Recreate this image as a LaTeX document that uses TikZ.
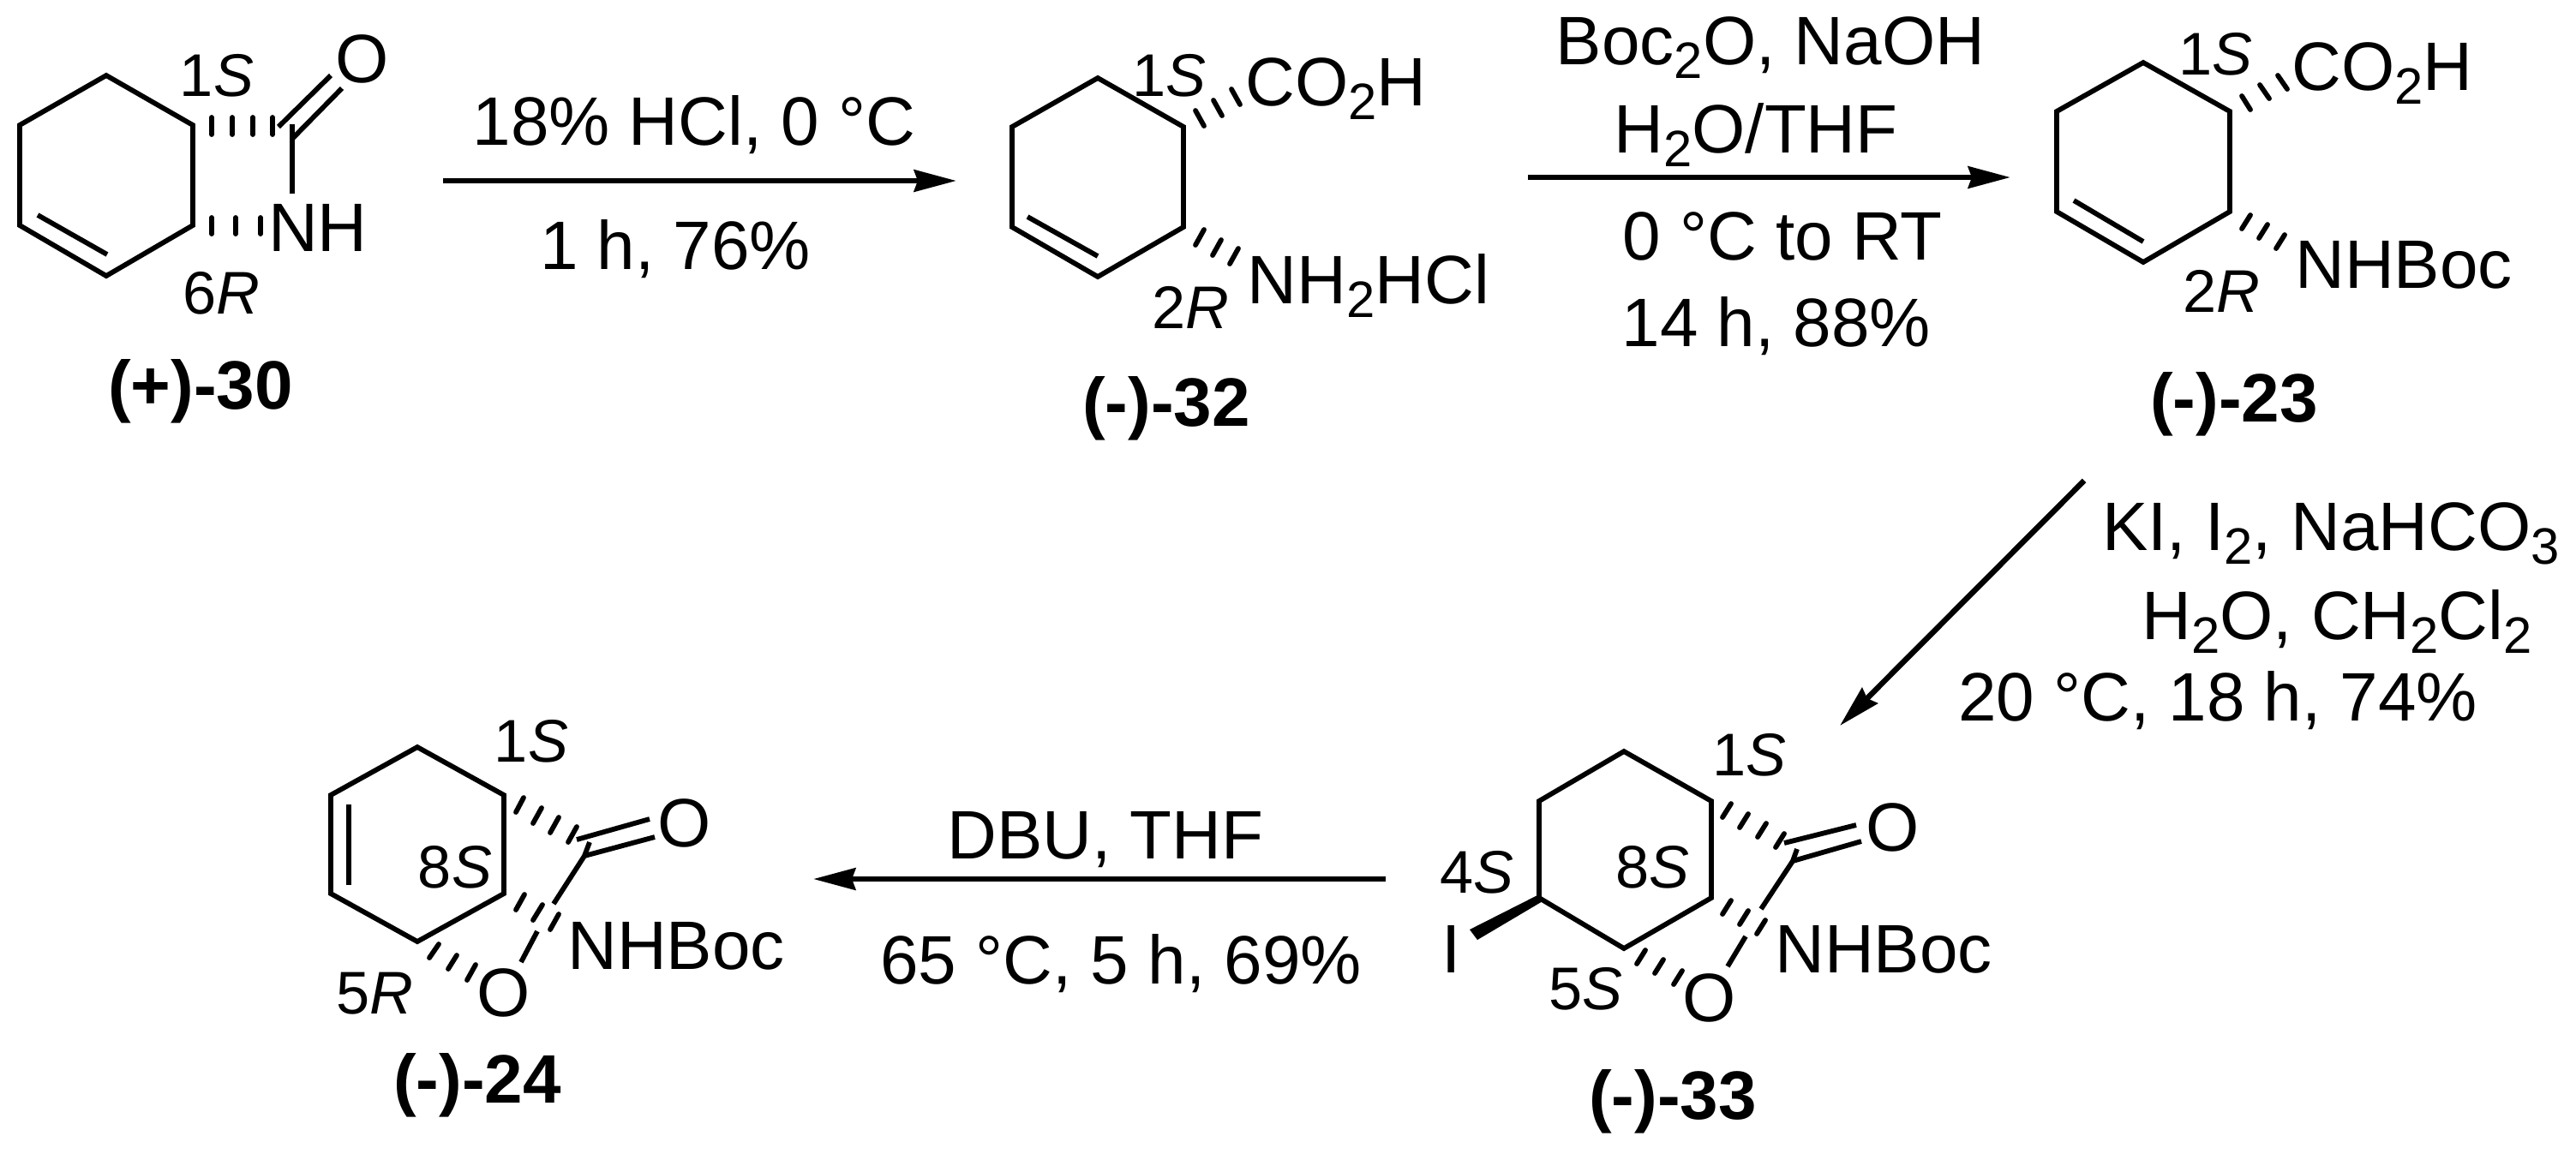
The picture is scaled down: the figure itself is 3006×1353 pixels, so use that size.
\documentclass[tikz,border=0pt]{standalone}
\usepackage{fontspec}
\usepackage{tikz}
\setmainfont{Liberation Sans}
\usetikzlibrary{arrows.meta, positioning}

\newcommand{\subn}[1]{\raisebox{-4.8pt}{\fontsize{17}{17}\selectfont #1}}

\begin{document}
\begin{tikzpicture}[x=0.01cm, y=-0.01cm,
    atom/.style={font=\fontsize{22.76}{26}\selectfont, inner sep=0pt, anchor=base},
    reagent/.style={atom},
    stereo/.style={font=\fontsize{20}{24}\selectfont, inner sep=0pt, anchor=base},
    compound/.style={font=\fontsize{22.76}{26}\selectfont\bfseries, inner sep=0pt, anchor=base},
    bond/.style={draw, line width=1.65pt, line join=miter},
    hash/.style={draw, line width=1.65pt, line cap=round},
    rxn/.style={-{Stealth[length=14pt, width=7.2pt, inset=1.2pt]}, line width=1.85pt}]
  \useasboundingbox (0,0) rectangle (3006,1353);

  % (+)-30
  \coordinate (r30a) at (124,88);
  \coordinate (r30b) at (225,146);
  \coordinate (r30c) at (225,263);
  \coordinate (r30d) at (124,322);
  \coordinate (r30e) at (23,263);
  \coordinate (r30f) at (23,146);
  \coordinate (i30a) at (44,251);
  \coordinate (i30b) at (125,297);
  \coordinate (c30)  at (341,162);
  \coordinate (s30)  at (341,145);
  \coordinate (n30)  at (341,226);
  \coordinate (o30a) at (399,103);
  \coordinate (o30b) at (325,148);
  \coordinate (o30c) at (386,88);
  \draw[bond] (r30a) -- (r30b) -- (r30c) -- (r30d) -- (r30e) -- (r30f) -- cycle;
  \draw[bond] (i30a) -- (i30b);
  \draw[bond] (s30) -- (n30);
  \draw[bond] (c30) -- (o30a);
  \draw[bond] (o30b) -- (o30c);
  \draw[hash] (247,137) -- (247,157);
  \draw[hash] (271,137) -- (271,157);
  \draw[hash] (295,137) -- (295,157);
  \draw[hash] (318,137) -- (318,157);
  \draw[hash] (247,254) -- (247,273);
  \draw[hash] (275,254) -- (275,273);
  \draw[hash] (304,254) -- (304,273);
  \node[atom]     (oxo30) at (423,96)  {O};
  \node[atom]     (nh30)  at (371,293) {NH};
  \node[stereo]   (s130)  at (253,112) {1\textit{S}};
  \node[stereo]   (r630)  at (258,366) {6\textit{R}};
  \node[compound] (cp30)  at (234,477) {(+)-30};

  % step to (-)-32
  \coordinate (a1s) at (517,211);
  \coordinate (a1e) at (1116,211);
  \path[rxn] (a1s) edge (a1e);
  \node[reagent] (t1a) at (810,169) {18\% HCl, 0 °C};
  \node[reagent] (t1b) at (788,314) {1 h, 76\%};

  % (-)-32
  \coordinate (r32a) at (1281,91);
  \coordinate (r32b) at (1381,148);
  \coordinate (r32c) at (1381,265);
  \coordinate (r32d) at (1281,323);
  \coordinate (r32e) at (1181,265);
  \coordinate (r32f) at (1181,148);
  \coordinate (i32a) at (1199,253);
  \coordinate (i32b) at (1281,299);
  \draw[bond] (r32a) -- (r32b) -- (r32c) -- (r32d) -- (r32e) -- (r32f) -- cycle;
  \draw[bond] (i32a) -- (i32b);
  \draw[hash] (1395,129) -- (1405,147);
  \draw[hash] (1416,117) -- (1426,135);
  \draw[hash] (1437,104) -- (1447,122);
  \draw[hash] (1405,268) -- (1395,286);
  \draw[hash] (1425,280) -- (1415,298);
  \draw[hash] (1445,290) -- (1435,308);
  \node[stereo]   (s132) at (1364,112) {1\textit{S}};
  \node[stereo]   (r232) at (1389,383) {2\textit{R}};
  \node[atom]     (co32) at (1559,123) {CO\subn{2}H};
  \node[atom]     (nh32) at (1597,354) {NH\subn{2}HCl};
  \node[compound] (cp32) at (1361,497) {(-)-32};

  % step to (-)-23
  \coordinate (a2s) at (1783,207);
  \coordinate (a2e) at (2346,207);
  \path[rxn] (a2s) edge (a2e);
  \node[reagent] (t2a) at (2066,75)  {Boc\subn{2}O, NaOH};
  \node[reagent] (t2b) at (2049,178) {H\subn{2}O/THF};
  \node[reagent] (t2c) at (2080,303) {0 °C to RT};
  \node[reagent] (t2d) at (2073,404) {14 h, 88\%};

  % (-)-23
  \coordinate (r23a) at (2501,73);
  \coordinate (r23b) at (2602,130);
  \coordinate (r23c) at (2602,247);
  \coordinate (r23d) at (2501,306);
  \coordinate (r23e) at (2400,247);
  \coordinate (r23f) at (2400,130);
  \coordinate (i23a) at (2420,234);
  \coordinate (i23b) at (2501,282);
  \draw[bond] (r23a) -- (r23b) -- (r23c) -- (r23d) -- (r23e) -- (r23f) -- cycle;
  \draw[bond] (i23a) -- (i23b);
  \draw[hash] (2616,112) -- (2626,128);
  \draw[hash] (2637,99) -- (2648,115);
  \draw[hash] (2658,88) -- (2669,104);
  \draw[hash] (2626,251) -- (2616,267);
  \draw[hash] (2646,262) -- (2636,278);
  \draw[hash] (2666,274) -- (2656,290);
  \node[stereo]   (s123) at (2585,87)  {1\textit{S}};
  \node[stereo]   (r223) at (2592,364) {2\textit{R}};
  \node[atom]     (co23) at (2780,105) {CO\subn{2}H};
  \node[atom]     (nh23) at (2805,336) {NHBoc};
  \node[compound] (cp23) at (2607,492) {(-)-23};

  % step to (-)-33
  \coordinate (a3s) at (2432,561);
  \coordinate (a3e) at (2147,847);
  \path[rxn] (a3s) edge (a3e);
  \node[reagent] (t3a) at (2720,642) {KI, I\subn{2}, NaHCO\subn{3}};
  \node[reagent] (t3b) at (2727,746) {H\subn{2}O, CH\subn{2}Cl\subn{2}};
  \node[reagent] (t3c) at (2588,841) {20 °C, 18 h, 74\%};

  % (-)-33
  \coordinate (r33a) at (1895,877);
  \coordinate (r33b) at (1997,935);
  \coordinate (r33c) at (1997,1048);
  \coordinate (r33d) at (1895,1107);
  \coordinate (r33e) at (1796,1048);
  \coordinate (r33f) at (1796,935);
  \coordinate (c33)  at (2092,1005);
  \coordinate (s33)  at (2097,991);
  \coordinate (k33a) at (2172,982);
  \coordinate (k33b) at (2082,984);
  \coordinate (k33c) at (2166,963);
  \coordinate (l33a) at (2055,1061);
  \coordinate (l33b) at (2037,1093);
  \coordinate (l33c) at (2016,1128);
  \draw[bond] (r33a) -- (r33b) -- (r33c) -- (r33d) -- (r33e) -- (r33f) -- cycle;
  \draw[bond] (c33) -- (k33a);
  \draw[bond] (k33b) -- (k33c);
  \draw[bond] (s33) -- (c33) -- (l33a);
  \draw[bond] (l33b) -- (l33c);
  \fill (1796,1044) -- (1800,1052) -- (1724,1097) -- (1715,1085) -- cycle;
  \draw[hash] (2010,954) -- (2020,938);
  \draw[hash] (2030,966) -- (2040,950);
  \draw[hash] (2051,977) -- (2061,961);
  \draw[hash] (2072,989) -- (2082,973);
  \draw[hash] (2010,1067) -- (2020,1051);
  \draw[hash] (2030,1079) -- (2040,1063);
  \draw[hash] (2050,1090) -- (2060,1074);
  \draw[hash] (1910,1125) -- (1920,1109);
  \draw[hash] (1931,1136) -- (1941,1120);
  \draw[hash] (1953,1149) -- (1963,1133);
  \node[atom]     (oxo33) at (2209,993)  {O};
  \node[atom]     (o33)   at (1995,1192) {O};
  \node[atom]     (i33)   at (1694,1135) {I};
  \node[atom]     (nh33)  at (2198,1135) {NHBoc};
  \node[stereo]   (s133)  at (2041,905)  {1\textit{S}};
  \node[stereo]   (s433)  at (1723,1042) {4\textit{S}};
  \node[stereo]   (s833)  at (1928,1036) {8\textit{S}};
  \node[stereo]   (s533)  at (1850,1178) {5\textit{S}};
  \node[compound] (cp33)  at (1952,1306) {(-)-33};

  % step to (-)-24
  \coordinate (a4s) at (1617,1026);
  \coordinate (a4e) at (949,1026);
  \path[rxn] (a4s) edge (a4e);
  \node[reagent] (t4a) at (1290,1002) {DBU, THF};
  \node[reagent] (t4b) at (1308,1148) {65 °C, 5 h, 69\%};

  % (-)-24
  \coordinate (r24a) at (487,872);
  \coordinate (r24b) at (588,928);
  \coordinate (r24c) at (588,1043);
  \coordinate (r24d) at (487,1099);
  \coordinate (r24e) at (386,1043);
  \coordinate (r24f) at (386,928);
  \coordinate (i24a) at (407,939);
  \coordinate (i24b) at (407,1033);
  \coordinate (c24)  at (682,999);
  \coordinate (s24)  at (688,983);
  \coordinate (k24a) at (764,977);
  \coordinate (k24b) at (673,980);
  \coordinate (k24c) at (758,956);
  \coordinate (l24a) at (646,1055);
  \coordinate (l24b) at (627,1087);
  \coordinate (l24c) at (608,1123);
  \draw[bond] (r24a) -- (r24b) -- (r24c) -- (r24d) -- (r24e) -- (r24f) -- cycle;
  \draw[bond] (i24a) -- (i24b);
  \draw[bond] (c24) -- (k24a);
  \draw[bond] (k24b) -- (k24c);
  \draw[bond] (s24) -- (c24) -- (l24a);
  \draw[bond] (l24b) -- (l24c);
  \draw[hash] (602,948) -- (611,931);
  \draw[hash] (622,961) -- (632,943);
  \draw[hash] (642,972) -- (652,954);
  \draw[hash] (663,983) -- (673,965);
  \draw[hash] (602,1062) -- (612,1044);
  \draw[hash] (622,1074) -- (633,1056);
  \draw[hash] (642,1085) -- (652,1067);
  \draw[hash] (501,1118) -- (512,1102);
  \draw[hash] (523,1131) -- (533,1115);
  \draw[hash] (545,1144) -- (555,1126);
  \node[atom]     (oxo24) at (799,988)  {O};
  \node[atom]     (o24)   at (588,1186) {O};
  \node[atom]     (nh24)  at (789,1131) {NHBoc};
  \node[stereo]   (s124)  at (620,889)  {1\textit{S}};
  \node[stereo]   (s824)  at (531,1036) {8\textit{S}};
  \node[stereo]   (r524)  at (437,1183) {5\textit{R}};
  \node[compound] (cp24)  at (557,1287) {(-)-24};
\end{tikzpicture}
\end{document}
